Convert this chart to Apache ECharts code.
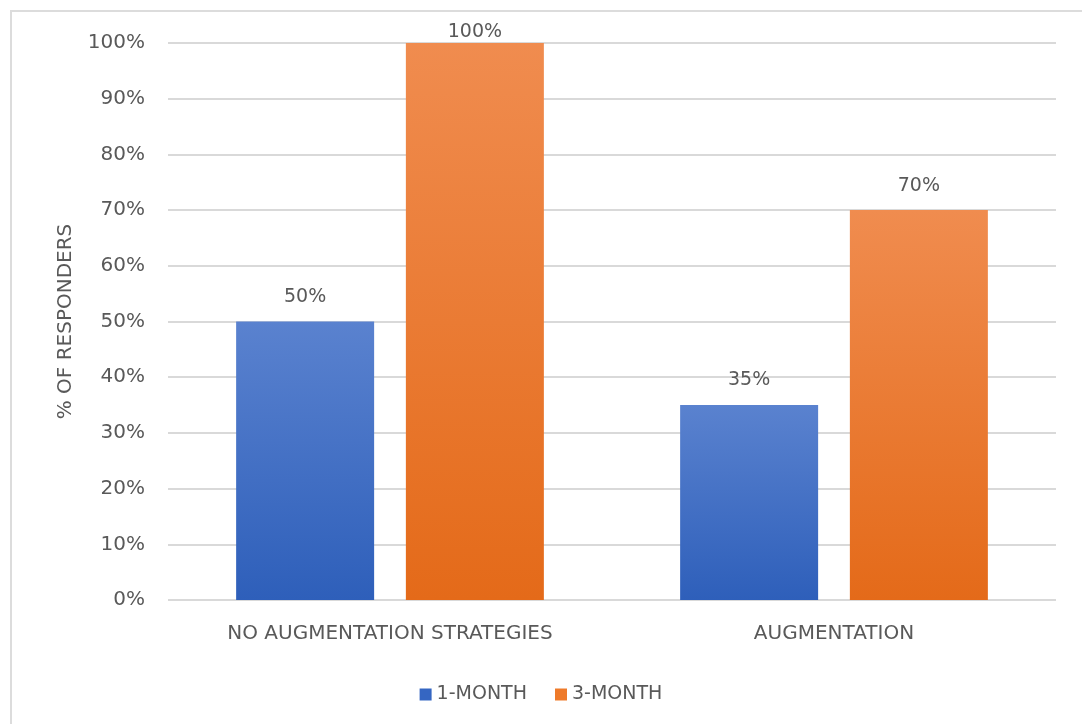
<!DOCTYPE html>
<html><head><meta charset="utf-8">
<script src="https://cdn.jsdelivr.net/npm/echarts@6/dist/echarts.min.js"></script>
<style>html,body{margin:0;padding:0;background:#fff}#c{width:1082px;height:724px}</style>
</head><body><div id="c"></div>
<script>
var categories = ['NO AUGMENTATION STRATEGIES', 'AUGMENTATION'];
var oneMonth = [50, 35];
var threeMonth = [100, 70];
var seriesNames = ['1-MONTH', '3-MONTH'];

var chart = echarts.init(document.getElementById('c'));
var font = 'DejaVu Sans';
var txt = '#595959';
function grad(top, bottom){
  return new echarts.graphic.LinearGradient(0,0,0,1,[{offset:0,color:top},{offset:1,color:bottom}]);
}
function withLabel(arr){
  return arr.map(function(v){ return v >= 100 ? {value:v,label:{distance:1}} : v; });
}
var labelStyle = {show:true,position:'top',distance:15,formatter:'{c}%',fontFamily:font,fontSize:19,color:txt};
chart.setOption({
  animation:false,
  graphic:[{type:'rect',shape:{x:11,y:11,width:1090,height:730},style:{fill:'none',stroke:'#dcdcdc',lineWidth:2},silent:true}],
  grid:{left:168,right:26,top:43,bottom:124},
  legend:{top:680,left:'center',itemWidth:12,itemHeight:12,itemGap:28,itemStyle:{borderWidth:0},icon:'rect',
    textStyle:{fontFamily:font,fontSize:19,color:txt},
    data:[{name:seriesNames[0],itemStyle:{color:'#3566c2'}},{name:seriesNames[1],itemStyle:{color:'#ee7a2a'}}]},
  xAxis:{type:'category',data:categories,axisLine:{show:false},axisTick:{show:false},
    axisLabel:{fontFamily:font,fontSize:20,color:txt,margin:24}},
  yAxis:{type:'value',min:0,max:100,interval:10,
    name:'% OF RESPONDERS',nameLocation:'middle',nameGap:92,nameRotate:90,
    nameTextStyle:{fontFamily:font,fontSize:20,color:txt},
    axisLabel:{formatter:'{value}%',fontFamily:font,fontSize:20,color:txt,margin:23},
    splitLine:{lineStyle:{color:'#d9d9d9',width:2}},axisLine:{show:false},axisTick:{show:false}},
  series:[
    {name:seriesNames[0],type:'bar',data:withLabel(oneMonth),barWidth:138,barGap:'23%',
      itemStyle:{color:grad('#5a82cf','#2e5fba')},label:labelStyle},
    {name:seriesNames[1],type:'bar',data:withLabel(threeMonth),barWidth:138,
      itemStyle:{color:grad('#f08c4f','#e46a19')},label:labelStyle}
  ]
});
</script></body></html>
